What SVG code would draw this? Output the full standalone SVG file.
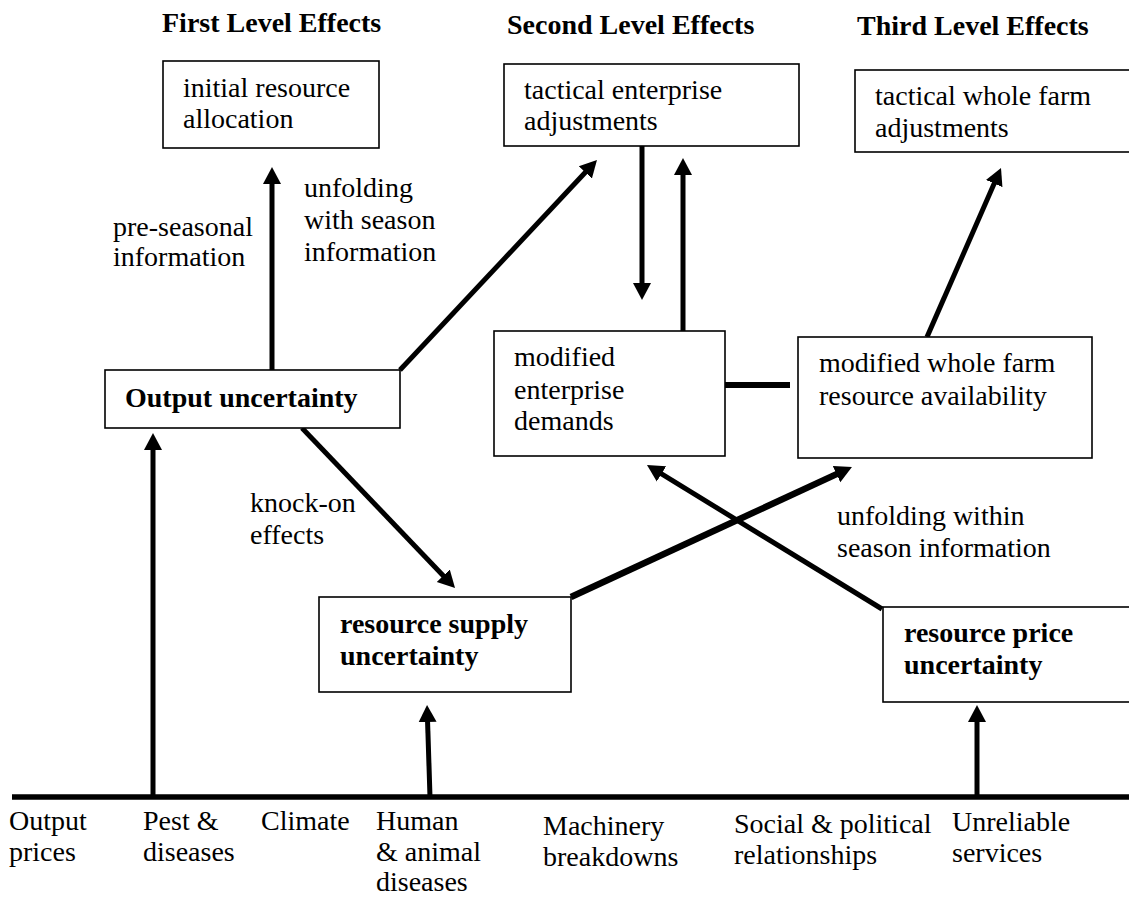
<svg xmlns="http://www.w3.org/2000/svg" width="1129" height="897" viewBox="0 0 1129 897">
<style>
text{font-family:"Liberation Serif","Times New Roman",serif;font-size:28px;fill:#000}
.h{font-weight:bold}
.b{font-weight:bold}
.box{fill:#fff;stroke:#000;stroke-width:1.6}
.arr{stroke:#000;stroke-width:5;fill:none;marker-end:url(#ah)}
.thick{stroke-width:6.5}
.ln{stroke:#000;fill:none}
</style>
<defs>
<marker id="ah" markerUnits="userSpaceOnUse" markerWidth="20" markerHeight="20" viewBox="0 -10 20 20" refX="9" refY="0" orient="auto">
<path d="M0,-9 L17,0 L0,9 z" fill="#000"/>
</marker>
</defs>
<rect width="1129" height="897" fill="#fff"/>

<g id="headers">
<text class="h" x="162" y="32">First Level Effects</text>
<text class="h" x="507" y="34">Second Level Effects</text>
<text class="h" x="857" y="35">Third Level Effects</text>
</g>

<g id="connectors">
<line class="arr" x1="272" y1="370" x2="272" y2="175"/>
<line class="arr" x1="400" y1="370" x2="591.5" y2="165.8"/>
<line class="arr" x1="642" y1="146" x2="642" y2="292"/>
<line class="arr" x1="683" y1="331" x2="683" y2="166"/>
<line class="arr" x1="927" y1="337" x2="997.8" y2="175.3"/>
<line class="arr" x1="153" y1="797" x2="153" y2="441"/>
<line class="arr" x1="302" y1="428" x2="449.5" y2="582.2"/>
<line class="arr thick" x1="571" y1="597" x2="844.7" y2="470.4"/>
<line class="arr" x1="882" y1="609" x2="653.8" y2="469.2"/>
<line class="arr" x1="430" y1="797" x2="427.3" y2="713"/>
<line class="arr" x1="977" y1="797" x2="977" y2="713"/>
<line class="ln" x1="725" y1="385" x2="790" y2="385" stroke-width="6"/>
<line class="ln" x1="12" y1="797" x2="1129" y2="797" stroke-width="5.5"/>
</g>

<g id="initial-resource-allocation">
<rect class="box" x="163" y="61" width="216" height="87"/>
<text x="183" y="97">initial resource</text>
<text x="183" y="128">allocation</text>
</g>

<g id="tactical-enterprise-adjustments">
<rect class="box" x="504" y="64" width="295" height="82"/>
<text x="524" y="99">tactical enterprise</text>
<text x="524" y="130">adjustments</text>
</g>

<g id="tactical-whole-farm-adjustments">
<rect class="box" x="855" y="70" width="290" height="82"/>
<text x="875" y="105">tactical whole farm</text>
<text x="875" y="137">adjustments</text>
</g>

<g id="output-uncertainty">
<rect class="box" x="105" y="370" width="295" height="58"/>
<text class="b" x="125" y="407">Output uncertainty</text>
</g>

<g id="modified-enterprise-demands">
<rect class="box" x="494" y="331" width="231" height="125"/>
<text x="514" y="366">modified</text>
<text x="514" y="399">enterprise</text>
<text x="514" y="430">demands</text>
</g>

<g id="modified-whole-farm">
<rect class="box" x="798" y="337" width="294" height="121"/>
<text x="819" y="372">modified whole farm</text>
<text x="819" y="405">resource availability</text>
</g>

<g id="resource-supply-uncertainty">
<rect class="box" x="319" y="597" width="252" height="95"/>
<text class="b" x="340" y="633">resource supply</text>
<text class="b" x="340" y="665">uncertainty</text>
</g>

<g id="resource-price-uncertainty">
<rect class="box" x="883" y="607" width="260" height="95"/>
<text class="b" x="904" y="642">resource price</text>
<text class="b" x="904" y="674">uncertainty</text>
</g>

<g id="labels">
<text x="113" y="236">pre-seasonal</text>
<text x="113" y="266">information</text>
<text x="304" y="197">unfolding</text>
<text x="304" y="229">with season</text>
<text x="304" y="261">information</text>
<text x="250" y="512">knock-on</text>
<text x="250" y="544">effects</text>
<text x="837" y="525">unfolding within</text>
<text x="837" y="557">season information</text>
</g>

<g id="sources">
<text x="9" y="830">Output</text>
<text x="9" y="861">prices</text>
<text x="143" y="830">Pest &amp;</text>
<text x="143" y="861">diseases</text>
<text x="261" y="830">Climate</text>
<text x="376" y="830">Human</text>
<text x="376" y="861">&amp; animal</text>
<text x="376" y="891">diseases</text>
<text x="543" y="835">Machinery</text>
<text x="543" y="866">breakdowns</text>
<text x="734" y="833">Social &amp; political</text>
<text x="734" y="864">relationships</text>
<text x="952" y="831">Unreliable</text>
<text x="952" y="862">services</text>
</g>
</svg>
